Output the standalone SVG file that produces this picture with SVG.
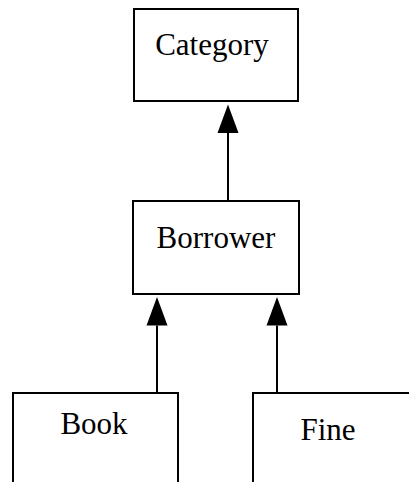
<svg xmlns="http://www.w3.org/2000/svg" width="409" height="482" viewBox="0 0 409 482">
<style>
.box{fill:#fff;stroke:#000;stroke-width:2}
.lbl{font-family:"Liberation Serif","Times New Roman",serif;font-size:31px;fill:#000;text-anchor:middle}
.edge{stroke:#000;stroke-width:2;fill:none}
</style>
<defs>
<marker id="arr" markerUnits="userSpaceOnUse" markerWidth="30" markerHeight="24" viewBox="0 -12 30 24" refX="0" refY="0" orient="auto" overflow="visible">
<path d="M0,-10.5 L28.5,0 L0,10.5 z" fill="#000"/>
</marker>
</defs>
<rect x="0" y="0" width="409" height="482" fill="#fff"/>
<g id="node-category">
<rect class="box" x="134" y="9" width="164" height="92"/>
<text class="lbl" x="212" y="55">Category</text>
</g>
<g id="node-borrower">
<rect class="box" x="133" y="201" width="166" height="93"/>
<text class="lbl" x="216" y="248">Borrower</text>
</g>
<g id="node-book">
<rect class="box" x="13" y="393" width="165" height="110"/>
<text class="lbl" x="94" y="434">Book</text>
</g>
<g id="node-fine">
<rect class="box" x="253" y="393" width="180" height="110"/>
<text class="lbl" x="328" y="440">Fine</text>
</g>
<g id="connectors">
<line class="edge" x1="228" y1="201" x2="228" y2="133" marker-end="url(#arr)"/>
<line class="edge" x1="157" y1="393" x2="157" y2="325.5" marker-end="url(#arr)"/>
<line class="edge" x1="277" y1="393" x2="277" y2="325.5" marker-end="url(#arr)"/>
</g>
</svg>
